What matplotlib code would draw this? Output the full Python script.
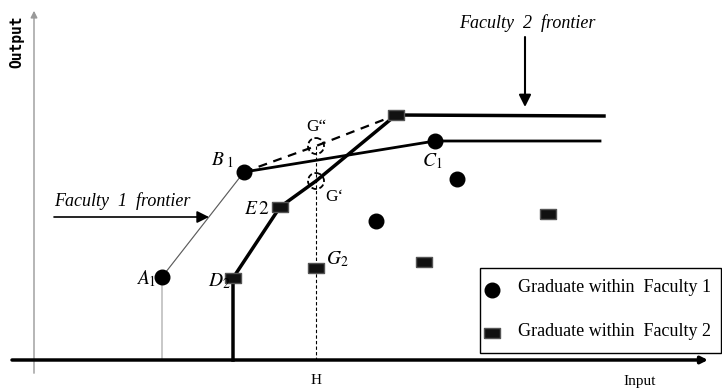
"""
plot.py

Faculty frontiers diagram: graduates of two faculties, input vs output.
"""
import matplotlib.pyplot as plt
from matplotlib.patches import Rectangle, Circle

plt.rcParams['font.family'] = 'Liberation Serif'
plt.rcParams['mathtext.fontset'] = 'stix'

# points in drawing coordinates (x right, y down, 722 x 388 canvas)
fac1_x = [162, 244, 376, 435, 457]
fac1_y = [277, 172, 221, 141, 179]
fac2_x = [233, 280, 316, 396, 424, 548]
fac2_y = [278, 207, 268, 115, 262, 214]

front1_x = [244, 435, 600]
front1_y = [172, 141, 141]
front2_x = [233, 233, 280, 316, 396, 604]
front2_y = [360, 278, 207, 181, 115, 116]

thin1_x = [162, 162, 244]
thin1_y = [360, 277, 172]

proj_x = [244, 316, 396]
proj_y = [172, 146, 115]

open_x = [316, 316]
open_y = [146, 181]
h_x = 316

rect_marker = [(-1, -0.58), (1, -0.58), (1, 0.58), (-1, 0.58), (-1, -0.58)]


def main():
    fig = plt.figure(figsize=(7.22, 3.88), dpi=100)
    ax = fig.add_axes([0, 0, 1, 1])
    ax.set_xlim(0, 722)
    ax.set_ylim(388, 0)
    ax.axis('off')

    # axes
    ax.annotate('', xy=(34, 8), xytext=(34, 376),
                arrowprops=dict(arrowstyle='-|>', color='#999999', lw=1,
                                mutation_scale=10))
    ax.annotate('', xy=(708, 360), xytext=(12, 360),
                arrowprops=dict(arrowstyle='-|>', color='black', lw=2.5,
                                mutation_scale=10, shrinkA=0, shrinkB=0))
    ax.text(17, 42, 'Output', rotation=90, ha='center', va='center',
            fontsize=10.5, fontweight='bold', family='DejaVu Sans Mono')
    ax.text(640, 381, 'Input', ha='center', va='center', fontsize=11)
    ax.text(h_x, 381, 'H', ha='center', va='center', fontsize=11)

    # vertical guide through H
    ax.plot([h_x, h_x], [146, 360], color='black', lw=0.8, ls=(0, (3, 2)))

    # faculty 1 thin frontier segment
    ax.plot(thin1_x, thin1_y, color='#aaaaaa', lw=0.9)
    ax.plot(thin1_x[1:], thin1_y[1:], color='#555555', lw=0.6)
    ax.plot(front1_x, front1_y, color='black', lw=2)
    ax.plot(front2_x, front2_y, color='black', lw=2.5)
    ax.plot(proj_x, proj_y, color='black', lw=1.6, ls=(0, (4, 3)))

    # open points G' and G''
    for x, y in zip(open_x, open_y):
        ax.add_patch(Circle((x, y), 8, fill=False, ec='black', lw=1.3,
                            ls=(0, (3, 1.5)), zorder=3))
    ax.plot(fac1_x, fac1_y, ls='none', marker='o', ms=10.5, color='black')
    ax.plot(fac2_x, fac2_y, ls='none', marker=rect_marker, ms=12,
            mfc='#111111', mec='#555555', mew=1)

    # point labels
    lab = dict(fontsize=14, ha='center', va='center')
    ax.text(146, 279, '$A_1$', **lab)
    ax.text(222, 160, '$B_{\\ 1}$', **lab)
    ax.text(432, 161, '$C_1$', **lab)
    ax.text(219, 281, '$D_2$', **lab)
    ax.text(257, 210, '$E\\,\\mathrm{2}$', **lab)
    ax.text(337, 259, '$G_2$', **lab)
    ax.text(316, 127, 'G\u201c', fontsize=12.5, ha='center', va='center')
    ax.text(334, 197, 'G\u2018', fontsize=12.5, ha='center', va='center')

    # frontier labels with arrows
    ax.text(527, 23, 'Faculty  2  frontier', style='italic', fontsize=13,
            ha='center', va='center')
    ax.annotate('', xy=(525, 107), xytext=(525, 37),
                arrowprops=dict(arrowstyle='-|>', color='black', lw=1.5,
                                mutation_scale=18, shrinkA=0, shrinkB=0))
    ax.text(122, 201, 'Faculty  1  frontier', style='italic', fontsize=13,
            ha='center', va='center')
    ax.annotate('', xy=(209, 217), xytext=(54, 217),
                arrowprops=dict(arrowstyle='-|>', color='black', lw=1.2,
                                mutation_scale=18, shrinkA=0, shrinkB=0))

    # legend box
    ax.add_patch(Rectangle((480, 268), 241, 85, fill=False, ec='black', lw=1))
    ax.plot([492], [290], ls='none', marker='o', ms=10.5, color='black')
    ax.plot([492], [333], ls='none', marker=rect_marker, ms=12,
            mfc='#111111', mec='#555555', mew=1)
    ax.text(518, 287, 'Graduate within  Faculty 1', fontsize=13, va='center')
    ax.text(518, 332, 'Graduate within  Faculty 2', fontsize=13, va='center')

    fig.savefig('out.png', dpi=100)


if __name__ == "__main__":
    main()
